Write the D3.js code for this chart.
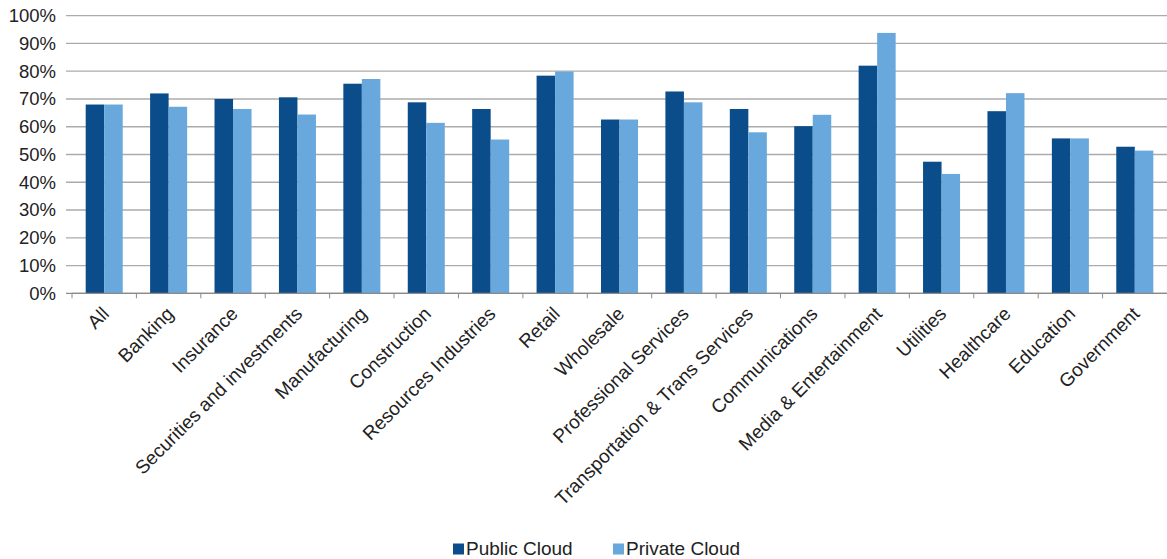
<!DOCTYPE html>
<html lang="en">
<head>
<meta charset="UTF-8">
<title>Public vs Private Cloud by industry</title>
<script src="https://d3js.org/d3.v7.min.js"></script>
<style>
  body { margin: 0; background: #fff; }
  text { font-family: "Liberation Sans", Arial, sans-serif; fill: #222; }
</style>
</head>
<body>
<div id="chart"></div>
<script>
// data
const categories = ["All", "Banking", "Insurance", "Securities and investments", "Manufacturing",
  "Construction", "Resources Industries", "Retail", "Wholesale", "Professional Services",
  "Transportation & Trans Services", "Communications", "Media & Entertainment", "Utilities",
  "Healthcare", "Education", "Government"];
const seriesNames = ["Public Cloud", "Private Cloud"];
const publicCloud = [68, 72, 70, 70.6, 75.5, 68.8, 66.4, 78.4, 62.6, 72.7, 66.4, 60.2, 82, 47.4, 65.6, 55.8, 52.8];
const privateCloud = [68, 67.2, 66.4, 64.4, 77.2, 61.4, 55.4, 79.9, 62.6, 68.8, 58, 64.3, 93.8, 43, 72.1, 55.8, 51.4];
const yTicks = [0, 10, 20, 30, 40, 50, 60, 70, 80, 90, 100];
const colors = ["#0b4c8a", "#69a8dc"];

const width = 1167, height = 559;
const plotLeft = 72, plotRight = 1167, plotTop = 15.7, plotBottom = 293.3;

const svg = d3.select("#chart").append("svg")
  .attr("width", width)
  .attr("height", height);

const x0 = d3.scaleBand().domain(categories).range([plotLeft, plotRight]).padding(0);
const x1 = d3.scaleBand().domain(seriesNames).range([0, x0.bandwidth()])
  .paddingInner(0).paddingOuter(0.74);
const y = d3.scaleLinear().domain([0, 100]).range([plotBottom, plotTop]);

// gridlines
svg.append("g")
  .selectAll("line")
  .data(yTicks)
  .join("line")
    .attr("x1", plotLeft - 6)
    .attr("x2", plotRight)
    .attr("y1", d => y(d))
    .attr("y2", d => y(d))
    .attr("stroke", d => d === 0 ? "#8a8a8a" : "#ababab")
    .attr("stroke-width", 1.3);

// y labels
svg.append("g")
  .selectAll("text")
  .data(yTicks)
  .join("text")
    .attr("x", 56)
    .attr("y", d => y(d))
    .attr("dy", "0.35em")
    .attr("text-anchor", "end")
    .style("font-size", "18.5px")
    .text(d => d + "%");

// bars
const rows = categories.map((c, i) => ({ cat: c, vals: [publicCloud[i], privateCloud[i]] }));
svg.append("g")
  .selectAll("g")
  .data(rows)
  .join("g")
    .attr("transform", d => `translate(${x0(d.cat)},0)`)
  .selectAll("rect")
  .data(d => d.vals.map((v, j) => ({ key: seriesNames[j], v: v, j: j })))
  .join("rect")
    .attr("x", d => x1(d.key))
    .attr("y", d => y(d.v))
    .attr("width", x1.bandwidth())
    .attr("height", d => y(0) - y(d.v))
    .attr("fill", d => colors[d.j]);

// x axis line and ticks
svg.append("line")
  .attr("x1", plotLeft).attr("x2", plotRight)
  .attr("y1", plotBottom).attr("y2", plotBottom)
  .attr("stroke", "#8a8a8a").attr("stroke-width", 1.3);
svg.append("g")
  .selectAll("line")
  .data(categories)
  .join("line")
    .attr("x1", d => x0(d)).attr("x2", d => x0(d))
    .attr("y1", plotBottom).attr("y2", plotBottom + 5)
    .attr("stroke", "#8a8a8a");

// category labels
svg.append("g")
  .selectAll("text")
  .data(categories)
  .join("text")
    .attr("transform", d => `translate(${x0(d) + x0.bandwidth() / 2 + 6},315) rotate(-45)`)
    .attr("text-anchor", "end")
    .style("font-size", "19px")
    .text(d => d);

// legend
const legend = svg.append("g");
const legendX = [453, 613];
seriesNames.forEach((s, i) => {
  legend.append("rect")
    .attr("x", legendX[i]).attr("y", 543.5)
    .attr("width", 11).attr("height", 11)
    .attr("fill", colors[i]);
  legend.append("text")
    .attr("x", legendX[i] + 13).attr("y", 554.5)
    .style("font-size", "19px")
    .text(s);
});
</script>
</body>
</html>
